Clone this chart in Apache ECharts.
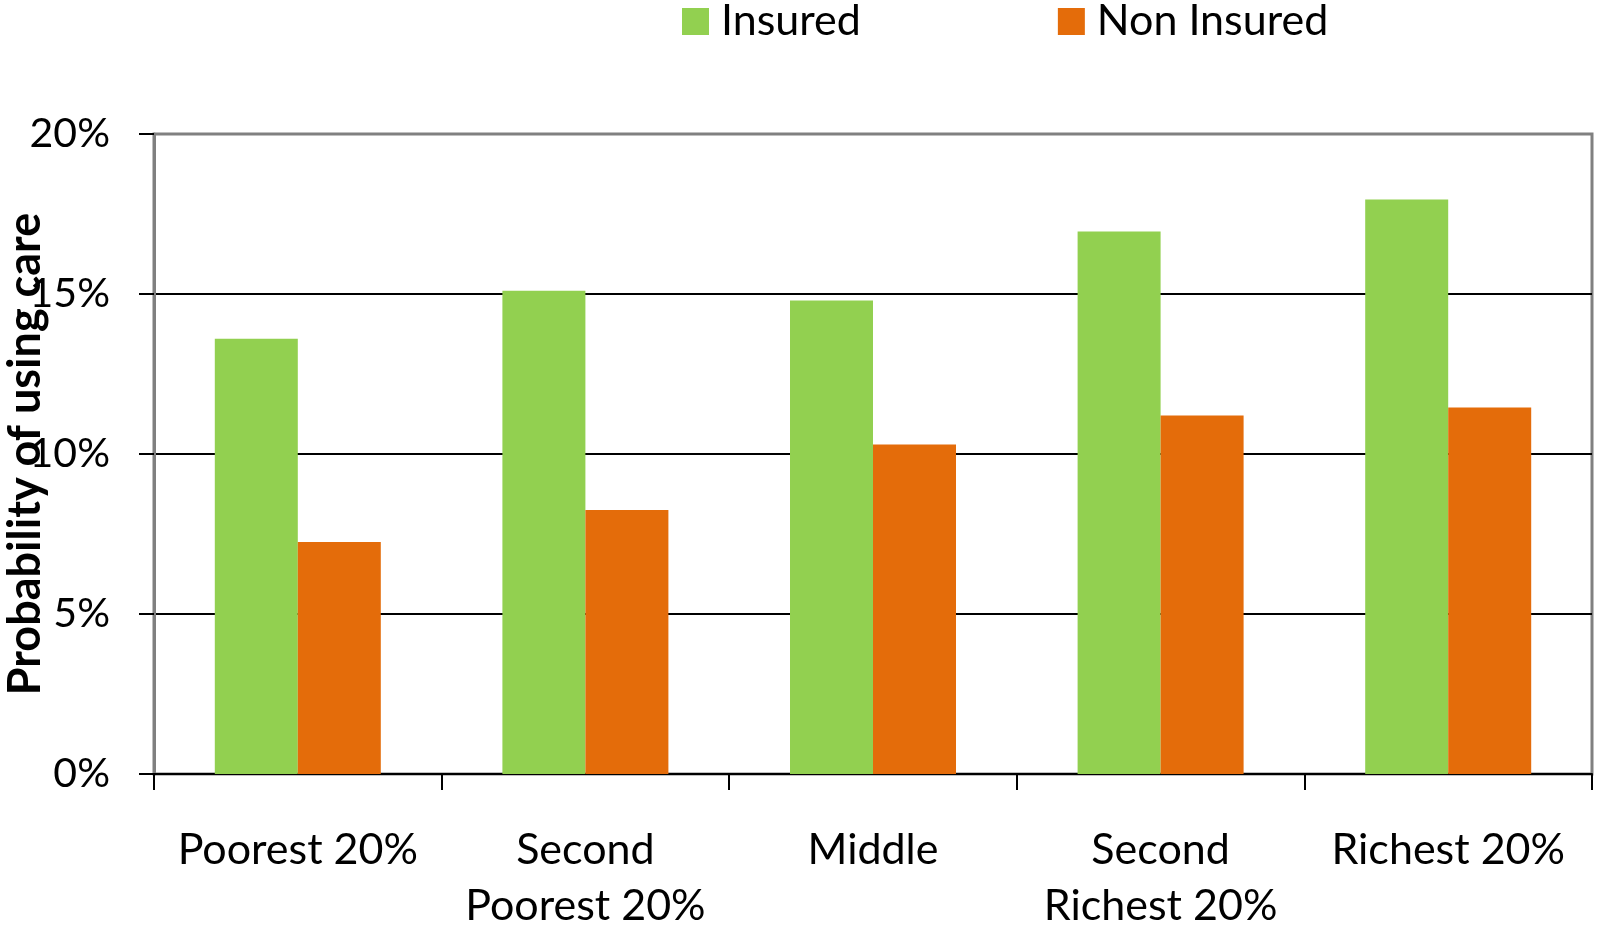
<!DOCTYPE html>
<html>
<head>
<meta charset="utf-8">
<script src="https://cdn.jsdelivr.net/npm/echarts@6/dist/echarts.min.js"></script>
<style>
  html, body { margin: 0; padding: 0; background: #fff; }
  #chart { width: 1597px; height: 928px; }
</style>
</head>
<body>
<div id="chart"></div>
<script>
// Income groups along the x axis
const categories = ['Poorest 20%', 'Second\nPoorest 20%', 'Middle', 'Second\nRichest 20%', 'Richest 20%'];
// Probability of using care, in percent
const insured = [13.6, 15.1, 14.8, 16.95, 17.95];
const nonInsured = [7.25, 8.25, 10.3, 11.2, 11.45];
const seriesNames = ['Insured', 'Non Insured'];
const yTicks = { min: 0, max: 20, interval: 5 };

const FONT = 'Lato';
const chart = echarts.init(document.getElementById('chart'));

chart.setOption({
  animation: false,
  backgroundColor: '#ffffff',
  color: ['#92D050', '#E46C0A'],
  legend: {
    left: 682,
    top: 0,
    padding: 0,
    itemWidth: 27,
    itemHeight: 27,
    itemGap: 197,
    icon: 'rect',
    textStyle: { fontFamily: FONT, fontSize: 43, color: '#000', padding: [0, 0, 0, 7] },
    data: seriesNames
  },
  grid: {
    left: 154, right: 5, top: 134, bottom: 154,
    outerBoundsMode: 'none',
    containLabel: false,
    show: true,
    borderColor: '#808080',
    borderWidth: 3,
    backgroundColor: 'transparent'
  },
  xAxis: {
    type: 'category',
    data: categories,
    axisLine: { lineStyle: { color: '#000', width: 2 } },
    axisTick: { show: true, interval: 0, length: 16, lineStyle: { color: '#000', width: 2 } },
    axisLabel: {
      interval: 0,
      hideOverlap: false,
      margin: 48,
      fontFamily: FONT, fontSize: 43, color: '#000', lineHeight: 56
    }
  },
  yAxis: {
    type: 'value',
    min: yTicks.min, max: yTicks.max, interval: yTicks.interval,
    name: 'Probability of using care',
    nameLocation: 'middle',
    nameRotate: 90,
    nameGap: 106,
    nameMoveOverlap: false,
    nameTextStyle: { fontFamily: FONT, fontSize: 45, fontWeight: 'bold', color: '#000' },
    axisLine: { show: true, lineStyle: { color: '#808080', width: 3 } },
    axisTick: { show: true, length: 15, lineStyle: { color: '#000', width: 2 } },
    axisLabel: {
      margin: 44,
      fontFamily: FONT, fontSize: 41, color: '#000',
      formatter: '{value}%'
    },
    splitLine: { show: true, showMaxLine: false, lineStyle: { color: '#000', width: 2 } }
  },
  series: [
    { name: seriesNames[0], type: 'bar', data: insured, barWidth: 83, barGap: '0%' },
    { name: seriesNames[1], type: 'bar', data: nonInsured, barWidth: 83, barGap: '0%' }
  ]
});
</script>
</body>
</html>
